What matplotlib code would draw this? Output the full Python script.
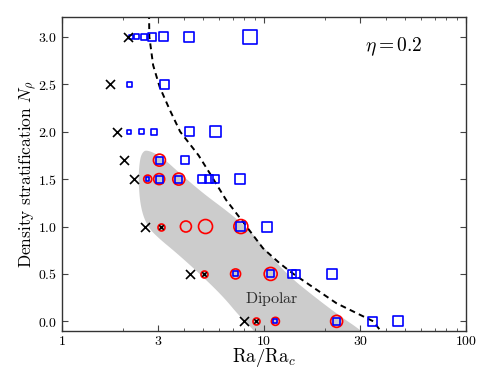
import numpy as np
import matplotlib
matplotlib.use("Agg")
import matplotlib.pyplot as plt

plt.rcParams['mathtext.fontset'] = 'cm'
plt.rcParams['font.family'] = 'serif'

# ---------------- data ----------------
# non-dynamo (failed) runs
fail_ra = [2.13, 1.73, 1.87, 2.03, 2.27, 2.58, 4.33, 7.99]
fail_n = [3.0, 2.5, 2.0, 1.7, 1.5, 1.0, 0.5, 0.0]

# multipolar dynamos (blue squares), marker size in px
sq_ra = [2.21, 2.34, 2.56, 2.80, 3.20, 4.27, 8.55,
         2.15, 3.23,
         2.15, 2.49, 2.86, 4.30, 5.74,
         3.04, 4.06,
         2.66, 3.03, 3.79, 4.92, 5.34, 5.72, 7.60,
         7.69, 10.31,
         7.24, 10.8, 13.8, 14.4, 21.8,
         11.4, 22.9, 34.4, 45.9]
sq_n = [3.0]*7 + [2.5]*2 + [2.0]*5 + [1.7]*2 + [1.5]*7 + [1.0]*2 + [0.5]*5 + [0.0]*4
sq_px = [4, 5, 6, 8, 9, 10, 14,
         5, 9,
         4, 5, 6, 9, 11,
         7, 8,
         3.3, 7, 7, 8, 8, 8, 10,
         9, 10,
         5, 7, 8, 8, 10,
         4, 7, 9, 10]

# dipolar dynamos (red circles), marker size in px
ci_ra = [3.04, 2.66, 3.03, 3.79, 4.11, 5.14, 7.69, 7.24, 10.8, 11.4, 22.9]
ci_n = [1.7, 1.5, 1.5, 1.5, 1.0, 1.0, 1.0, 0.5, 0.5, 0.0, 0.0]
ci_px = [12, 8, 11, 12, 11, 14, 14, 10, 13, 8, 12]

# decaying dipolar runs (circle with cross)
dx_ra = [3.08, 5.05, 9.13]
dx_n = [1.0, 0.5, 0.0]

# transition line
line_ra = [2.70, 2.71, 2.83, 3.05, 3.42, 3.85, 4.75, 5.4, 6.5, 8.2, 9.9, 12.0, 14.0, 22.9, 34.8, 37.8]
line_n = [3.25, 3.0, 2.7, 2.47, 2.23, 2.0, 1.75, 1.56, 1.28, 1.0, 0.77, 0.61, 0.5, 0.19, 0.0, -0.1]

# dipolar region outline
reg_ra = [2.63, 3.1, 3.84, 5.0, 6.79, 8.5, 9.6, 12.9, 18.0, 24.0, 30.5, 36.0,
          9.8, 9.0, 7.6, 6.29, 4.82, 3.7, 3.0, 2.65, 2.45, 2.39, 2.43, 2.5]
reg_n = [1.81, 1.74, 1.56, 1.35, 1.14, 0.96, 0.82, 0.5, 0.25, 0.05, -0.1, -0.25,
         -0.25, -0.1, 0.05, 0.26, 0.5, 0.72, 0.88, 1.0, 1.2, 1.5, 1.70, 1.78]

xticks = [1, 3, 10, 30, 100]
xticklabels = ['1', '3', '10', '30', '100']
yticks = [0.0, 0.5, 1.0, 1.5, 2.0, 2.5, 3.0]

# ---------------- plot ----------------
DPI = 100
fig = plt.figure(figsize=(4.91, 3.68), dpi=DPI)
ax = fig.add_axes([0.126, 0.101, 0.823, 0.853])
ax.set_xscale('log')
ax.set_xlim(1, 100)
ax.set_ylim(-0.1, 3.21)

def chaikin(x, y, it=3):
    p = np.column_stack([x, y])
    for _ in range(it):
        q = np.roll(p, -1, axis=0)
        a = 0.75 * p + 0.25 * q
        b = 0.25 * p + 0.75 * q
        p = np.empty((2 * len(a), 2))
        p[0::2] = a
        p[1::2] = b
    return p[:, 0], p[:, 1]

lx, ly = chaikin(np.log10(reg_ra), np.array(reg_n))
ax.fill(10 ** lx, ly, color='#cccccc', lw=0, zorder=1)

ax.plot(line_ra, line_n, color='k', lw=1.4, ls=(0, (3, 2.2)), zorder=2)

px2pt = 72.0 / DPI
ax.scatter(ci_ra, ci_n, s=(np.array(ci_px) * px2pt) ** 2, marker='o',
           facecolors='none', edgecolors='red', linewidths=1.2, zorder=3)
ax.scatter(sq_ra, sq_n, s=(np.array(sq_px) * px2pt) ** 2, marker='s',
           facecolors='none', edgecolors='blue', linewidths=1.2, zorder=4)
ax.scatter(dx_ra, dx_n, s=(7 * px2pt) ** 2, marker='o',
           facecolors='#bbbbbb', edgecolors='red', linewidths=1.2, zorder=3)
ax.scatter(dx_ra, dx_n, s=(4.5 * px2pt) ** 2, marker='x',
           color='k', linewidths=1.1, zorder=4)
ax.scatter(fail_ra, fail_n, s=(9 * px2pt) ** 2, marker='x',
           color='k', linewidths=1.2, zorder=4)

ax.text(10.9, 0.235, r'$\mathrm{Dipolar}$', fontsize=11.5, color='#2a2a2a',
        ha='center', va='center', zorder=5)
ax.text(0.82, 0.905, r'$\eta = 0.2$', fontsize=14, ha='center', va='center',
        transform=ax.transAxes)

ax.set_xticks(xticks)
ax.set_xticklabels(['$%s$' % t for t in xticklabels], fontsize=10)
ax.set_yticks(yticks)
ax.set_yticklabels(['$%.1f$' % v for v in yticks], fontsize=10)
ax.xaxis.set_minor_locator(matplotlib.ticker.LogLocator(base=10, subs=np.arange(2, 10)))
ax.xaxis.set_minor_formatter(matplotlib.ticker.NullFormatter())
ax.tick_params(which='both', direction='in', top=True, right=True, color='#444444')
ax.tick_params(which='major', length=4, width=0.8)
ax.tick_params(axis='x', which='major', pad=2)
ax.tick_params(which='minor', length=2.5, width=0.6)
for sp in ax.spines.values():
    sp.set_color('#333333')
    sp.set_linewidth(1.0)

ax.set_xlabel(r'$\mathrm{Ra}/\mathrm{Ra}_c$', fontsize=13.5, labelpad=-1)
ax.set_ylabel(r'$\mathrm{Density\ stratification}\ N_\rho$', fontsize=12.5, labelpad=-1)

fig.savefig('out.png', dpi=DPI)
